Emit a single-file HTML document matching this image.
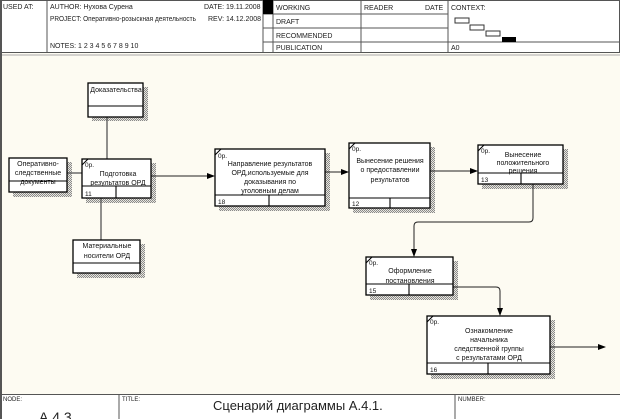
<!DOCTYPE html>
<html><head><meta charset="utf-8"><style>
body{margin:0;background:#fff;}
svg{display:block;font-family:"Liberation Sans","Noto Sans CJK SC",sans-serif;}
</style></head><body>
<svg width="620" height="419" viewBox="0 0 620 419" xmlns="http://www.w3.org/2000/svg">
<defs>
<pattern id="h" width="2" height="2" patternUnits="userSpaceOnUse"><rect width="2" height="2" fill="#e8e6df"/><rect width="1" height="1" fill="#8a8a8a"/><rect x="1" y="1" width="1" height="1" fill="#8a8a8a"/></pattern>
<marker id="a" markerWidth="8" markerHeight="6" refX="7" refY="3" orient="auto" markerUnits="userSpaceOnUse"><path d="M0,0L8,3L0,6z" fill="#000"/></marker>
</defs>
<rect width="620" height="419" fill="#fdfbf2"/>
<rect x="0" y="0" width="620" height="53" fill="#fff"/>
<g stroke="#555" stroke-width="1" fill="none">
<rect x="0.5" y="0.5" width="619" height="52"/>
<line x1="47" y1="0" x2="47" y2="53"/>
<line x1="263" y1="0" x2="263" y2="53"/>
<line x1="273" y1="0" x2="273" y2="53"/>
<line x1="361" y1="0" x2="361" y2="53"/>
<line x1="448" y1="0" x2="448" y2="53"/>
<line x1="263" y1="14" x2="448" y2="14"/>
<line x1="263" y1="28" x2="448" y2="28"/>
<line x1="263" y1="42" x2="448" y2="42"/>
<line x1="448" y1="42" x2="620" y2="42"/>
<line x1="0" y1="55" x2="620" y2="55" stroke="#aaa"/>
</g>
<rect x="263" y="0" width="10" height="14" fill="#000"/>
<g font-size="7" fill="#222">
<text x="3" y="9">USED AT:</text>
<text x="50" y="9">AUTHOR:  Нухова Сурена</text>
<text x="204" y="9">DATE: 19.11.2008</text>
<text x="50" y="21" textLength="146" lengthAdjust="spacingAndGlyphs">PROJECT:  Оперативно-розыскная деятельность</text>
<text x="208" y="21">REV:  14.12.2008</text>
<text x="50" y="48">NOTES:  1  2  3  4  5  6  7  8  9  10</text>
<text x="276" y="10">WORKING</text>
<text x="276" y="24">DRAFT</text>
<text x="276" y="38">RECOMMENDED</text>
<text x="276" y="50">PUBLICATION</text>
<text x="364" y="10">READER</text>
<text x="425" y="10">DATE</text>
<text x="451" y="10">CONTEXT:</text>
<text x="451" y="50">A0</text>
</g>
<g stroke="#333" fill="#fff"><rect x="455" y="18" width="14" height="5"/><rect x="470" y="25" width="14" height="5"/><rect x="486" y="31" width="14" height="5"/></g>
<rect x="502" y="37" width="14" height="5" fill="#000"/>
<rect x="0" y="394" width="620" height="25" fill="#fff"/>
<g stroke="#555" fill="none"><line x1="0" y1="394.5" x2="620" y2="394.5"/><line x1="119" y1="394" x2="119" y2="419"/><line x1="455" y1="394" x2="455" y2="419"/><line x1="1" y1="0" x2="1" y2="419" stroke-width="2"/></g>
<g fill="#222"><text x="3" y="401" font-size="6">NODE:</text><text x="122" y="401" font-size="6">TITLE:</text><text x="458" y="401" font-size="6">NUMBER:</text>
<text x="39" y="422" font-size="14">A.4.3</text>
<text x="213" y="410" font-size="13">Сценарий диаграммы А.4.1.</text></g>
<g fill="url(#h)">
<rect x="92" y="87" width="56" height="34"/>
<rect x="13" y="162" width="59" height="35"/>
<rect x="86" y="163" width="70" height="40"/>
<rect x="77" y="244" width="68" height="34"/>
<rect x="219" y="153" width="111" height="58"/>
<rect x="353" y="147" width="82" height="66"/>
<rect x="482" y="149" width="86" height="40"/>
<rect x="370" y="261" width="88" height="39"/>
<rect x="431" y="320" width="124" height="59"/>
</g>
<g stroke="#555" stroke-width="1.3" fill="none">
<line x1="107" y1="117" x2="107" y2="159"/>
<line x1="67" y1="173" x2="82" y2="173"/>
<line x1="101" y1="198" x2="101" y2="240"/>
</g>
<g stroke="#222" stroke-width="1" fill="none" marker-end="url(#a)">
<path d="M151 176H214"/>
<path d="M325 172H348"/>
<path d="M430 171H477"/>
<path d="M533 184V218Q533 222 529 222H418Q414 222 414 226V256"/>
<path d="M453 287H496Q500 287 500 291V315"/>
<path d="M550 347H605"/>
</g>
<g stroke="#000" stroke-width="1.3" fill="#fff">
<rect x="88" y="83" width="55" height="34"/>
<rect x="9" y="158" width="58" height="34"/>
<rect x="82" y="159" width="69" height="39"/>
<rect x="73" y="240" width="67" height="33"/>
<rect x="215" y="149" width="110" height="57"/>
<rect x="349" y="143" width="81" height="65"/>
<rect x="478" y="145" width="85" height="39"/>
<rect x="366" y="257" width="87" height="38"/>
<rect x="427" y="316" width="123" height="58"/>
</g>
<g stroke="#000" stroke-width="1.1">
<line x1="88" y1="106" x2="143" y2="106"/>
<line x1="9" y1="181" x2="67" y2="181"/>
<line x1="82" y1="186" x2="151" y2="186"/><line x1="116" y1="186" x2="116" y2="198"/>
<line x1="73" y1="263" x2="140" y2="263"/>
<line x1="215" y1="195" x2="325" y2="195"/><line x1="269" y1="195" x2="269" y2="206"/>
<line x1="349" y1="198" x2="430" y2="198"/><line x1="390" y1="198" x2="390" y2="208"/>
<line x1="478" y1="173" x2="563" y2="173"/><line x1="521" y1="173" x2="521" y2="184"/>
<line x1="366" y1="284" x2="453" y2="284"/><line x1="409" y1="284" x2="409" y2="295"/>
<line x1="427" y1="363" x2="550" y2="363"/><line x1="488" y1="363" x2="488" y2="374"/>
<line x1="82" y1="165" x2="88" y2="159"/><line x1="215" y1="155" x2="221" y2="149"/>
<line x1="349" y1="149" x2="355" y2="143"/><line x1="478" y1="151" x2="484" y2="145"/>
<line x1="366" y1="263" x2="372" y2="257"/><line x1="427" y1="322" x2="433" y2="316"/>
</g>
<g font-size="7" fill="#111" text-anchor="middle">
<text x="116" y="92">Доказательства</text>
<text x="38" y="166">Оперативно-</text><text x="38" y="175">следственные</text><text x="38" y="184">документы</text>
<text x="118" y="176">Подготовка</text><text x="118" y="185">результатов ОРД</text>
<text x="107" y="248">Материальные</text><text x="107" y="258">носители  ОРД</text>
<text x="270" y="166">Направление результатов</text><text x="270" y="175">ОРД,используемые для</text><text x="270" y="184">доказывания по</text><text x="270" y="193">уголовным делам</text>
<text x="390" y="163">Вынесение решения</text><text x="390" y="172">о предоставлении</text><text x="390" y="182">результатов</text>
<text x="523" y="157">Вынесение</text><text x="523" y="165">положительного</text><text x="523" y="173">решения</text>
<text x="410" y="273">Оформление</text><text x="410" y="283">постановления</text>
<text x="489" y="333">Ознакомление</text><text x="489" y="342">начальника</text><text x="489" y="351">следственной группы</text><text x="489" y="360">с результатами ОРД</text>
</g>
<g font-size="6.5" fill="#111">
<text x="85" y="167">0р.</text><text x="218" y="158">0р.</text><text x="352" y="151">0р.</text><text x="481" y="153">0р.</text><text x="369" y="265">0р.</text><text x="430" y="324">0р.</text>
<text x="85" y="196">11</text><text x="218" y="204">18</text><text x="352" y="206">12</text><text x="481" y="182">13</text><text x="369" y="293">15</text><text x="430" y="372">16</text>
</g>
</svg>
</body></html>
